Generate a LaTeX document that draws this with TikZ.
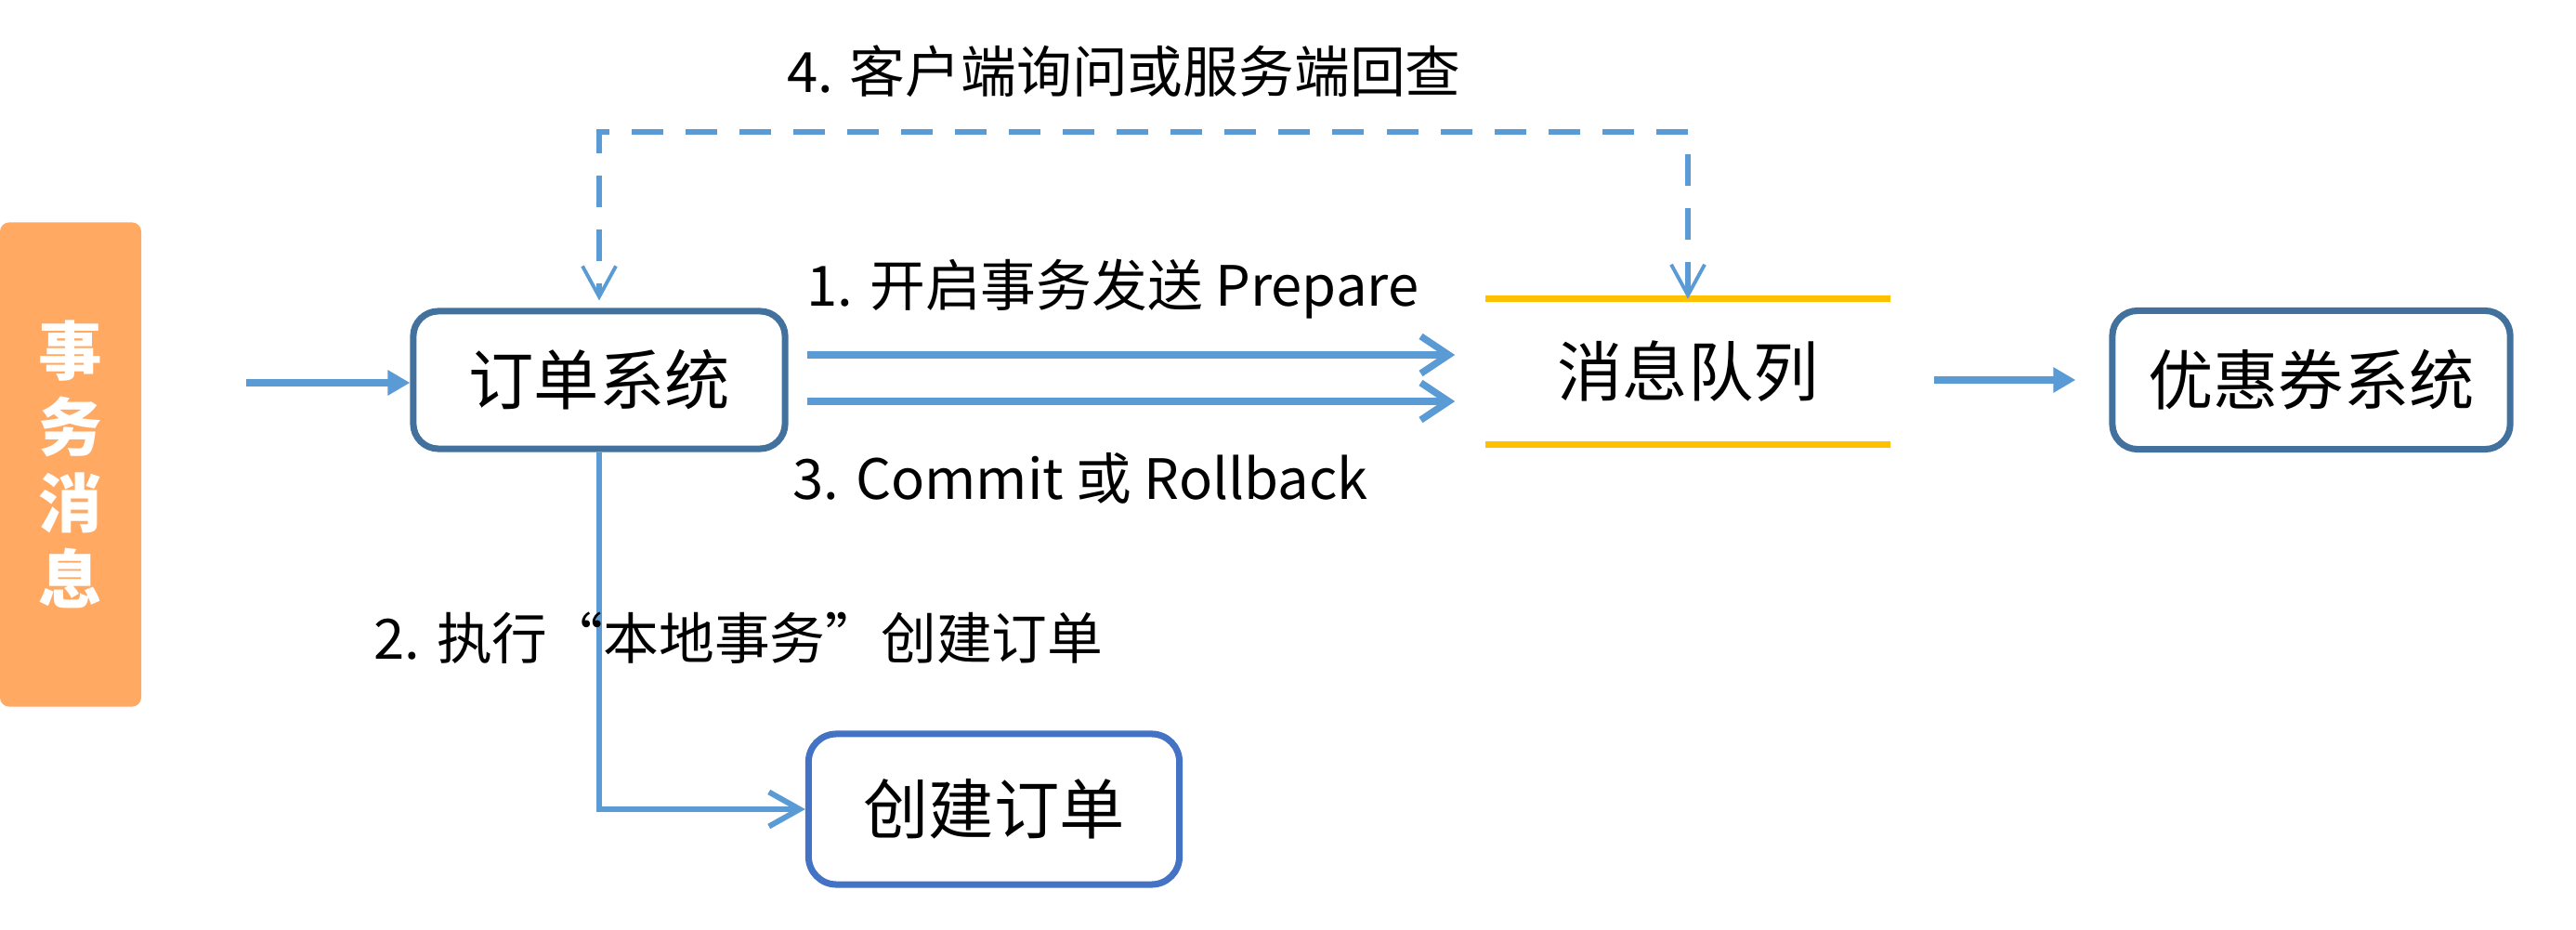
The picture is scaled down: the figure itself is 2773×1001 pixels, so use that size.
\documentclass[tikz,border=0pt]{standalone}
\usepackage{fontspec}
\setmainfont{Noto Sans CJK SC}
\usetikzlibrary{arrows.meta}
\definecolor{boxblue}{HTML}{41719C}
\definecolor{boxblueb}{HTML}{4472C4}
\definecolor{wireblue}{HTML}{5B9BD5}
\definecolor{mqyellow}{HTML}{FFC000}
\definecolor{tagorange}{HTML}{FFA962}
\tikzset{
  sysblock/.style={draw=boxblue, rectangle, rounded corners=.27cm, line width=2pt, font=\fontsize{20}{24}\selectfont, minimum width=4cm, minimum height=1.48cm},
  flowwire/.style={wireblue, line width=2.1pt, -{Straight Barb[length=.3cm,width=.4cm]}},
  fillwire/.style={wireblue, line width=2pt, -{Triangle[length=.24cm,width=.26cm]}},
  downwire/.style={wireblue, line width=1.7pt, -{Straight Barb[length=.33cm,width=.37cm]}},
  dashwire/.style={wireblue, line width=1.8pt, dash pattern=on .34cm off .24cm, {Straight Barb[length=.33cm,width=.36cm,line width=1.1pt]}-{Straight Barb[length=.33cm,width=.36cm,line width=1.1pt]}},
  queueline/.style={mqyellow, line width=2pt},
  steplabel/.style={font=\fontsize{17}{20}\selectfont}
}
\begin{document}
\begin{tikzpicture}[x=0.01cm, y=-0.01cm]
    \useasboundingbox (0,0) rectangle (2773,1001);
    \node[fill=tagorange, rounded corners=.1cm, minimum width=1.52cm, minimum height=5.21cm, text=white, align=center, font=\bfseries\fontsize{19.5}{23.3}\selectfont] (tag) at (76,500) {事\\务\\消\\息};
    \node[sysblock] (order) at (645,409) {订单系统};
    \node[sysblock, minimum width=4.28cm, minimum height=1.49cm] (coupon) at (2488,409) {优惠券系统};
    \node[sysblock, draw=boxblueb, minimum width=3.99cm, minimum height=1.62cm, rounded corners=.3cm] (create) at (1070,871) {创建订单};
    \node[minimum width=4.34cm, minimum height=1.55cm, font=\fontsize{20}{24}\selectfont] (mq) at (1817,400) {消息队列};
    \draw[queueline] (mq.north west) -- (mq.north east);
    \draw[queueline] (mq.south west) -- (mq.south east);

    \coordinate (in) at (265,412);
    \coordinate (chk) at (1230,142); % check back
    \coordinate (o1) at ([yshift=.27cm]order.east);
    \coordinate (o3) at ([yshift=-.23cm]order.east);
    \draw[fillwire] (in) -- (order.west |- in);
    \draw[flowwire, shorten <=.2cm, shorten >=.33cm] (o1) -- (o1 -| mq.west);
    \draw[flowwire, shorten <=.2cm, shorten >=.33cm] (o3) -- (o3 -| mq.west);
    \draw[fillwire, shorten <=.47cm, shorten >=.36cm] (mq.east |- coupon.west) -- (coupon.west);
    \draw[downwire] (order.south) |- (create.west);
    \draw[dashwire, shorten >=.08cm] (mq.north) |- (chk) -| (order.north);

    \node[steplabel] (s1) at (1198,311) {1. 开启事务发送 Prepare};
    \node[steplabel] (s3) at (1163,515) {3. Commit 或 Rollback};
    \node[steplabel] (s2) at (795,687) {2. 执行“本地事务”创建订单};
    \node[steplabel] (s4) at (1210,77) {4. 客户端询问或服务端回查};
  \end{tikzpicture}
\end{document}
